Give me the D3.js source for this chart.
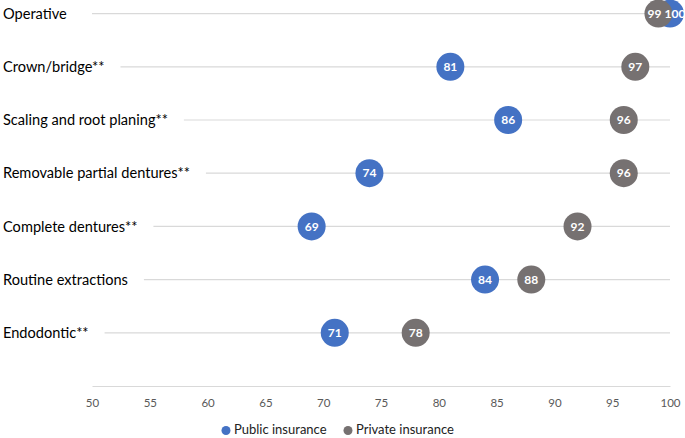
<!DOCTYPE html>
<html><head><meta charset="utf-8">
<script src="https://cdn.jsdelivr.net/npm/d3@7"></script>
<style>body{margin:0;background:#fff}svg{display:block}</style>
</head><body><svg id="c" width="685" height="438"></svg>
<script>
const categories = ["Operative","Crown/bridge**","Scaling and root planing**","Removable partial dentures**","Complete dentures**","Routine extractions","Endodontic**"];
const publicValues = [100,81,86,74,69,84,71];
const privateValues = [99,97,96,96,92,88,78];
const xTicks = [50,55,60,65,70,75,80,85,90,95,100];
const seriesNames = ["Public insurance","Private insurance"];
const colors = ["#4472C4","#767171"];

const svg = d3.select("#c");
const font = "Lato, 'Open Sans', sans-serif";
const x = d3.scaleLinear().domain([50,100]).range([92,670]);
const y = d3.scalePoint().domain(categories.concat(["__axis"])).range([13.6,386]);

// category labels
const rows = categories.map((c,i)=>({c,i}));
const lbls = svg.append("g").selectAll("text").data(rows).join("text")
  .attr("x",3).attr("y",d=>y(d.c)).attr("dy","0.35em")
  .attr("font-family",font).attr("font-size",14.6).attr("fill","#000")
  .text(d=>d.c);
const ends = [];
lbls.each(function(d){ const b=this.getBBox(); ends[d.i] = b.x + b.width; });

// gridlines
svg.insert("g",":first-child").selectAll("line").data(rows).join("line")
  .attr("x1",d=>Math.max(x(50), ends[d.i]+16)).attr("x2",x(100))
  .attr("y1",d=>y(d.c)).attr("y2",d=>y(d.c))
  .attr("stroke","#d9d9d9").attr("stroke-width",1.2);

// axis
const axis = svg.append("g").attr("transform",`translate(0,${y("__axis")})`)
  .call(d3.axisBottom(x).tickValues(xTicks).tickSize(0).tickPadding(13));
axis.select(".domain").attr("stroke","#d9d9d9").attr("stroke-width",1.2);
axis.selectAll("text").attr("font-family",font).attr("font-size",11.5).attr("fill","#595959");

// dots
const r = 14;
const pub = categories.map((c,i)=>({c,v:publicValues[i],o:privateValues[i]}));
const pri = categories.map((c,i)=>({c,v:privateValues[i],o:publicValues[i]}));
svg.append("g").selectAll("circle").data(pub).join("circle")
  .attr("cx",d=>x(d.v)).attr("cy",d=>y(d.c)).attr("r",r).attr("fill",colors[0]);
svg.append("g").selectAll("circle").data(pri).join("circle")
  .attr("cx",d=>x(d.v)).attr("cy",d=>y(d.c)).attr("r",r).attr("fill",colors[1]);
// shift labels apart when the two dots overlap
const shift = d => { const dd = x(d.v)-x(d.o); return Math.abs(dd) < 2*r ? (dd>0?5:-4) : 0; };
[pub,pri].forEach(data=>{
  svg.append("g").selectAll("text").data(data).join("text")
    .attr("x",d=>x(d.v)+shift(d)).attr("y",d=>y(d.c)).attr("dy","0.35em")
    .attr("text-anchor","middle").attr("font-family",font).attr("font-weight","bold")
    .attr("font-size",12).attr("fill","#fff").text(d=>d.v);
});

// legend
const leg = svg.append("g");
const legX = [226,348];
const legY = 429.5;
seriesNames.forEach((n,i)=>{
  leg.append("circle").attr("cx",legX[i]).attr("cy",legY+1).attr("r",4.5).attr("fill",colors[i]);
  leg.append("text").attr("x",legX[i]+8).attr("y",legY).attr("dy","0.35em")
    .attr("font-family",font).attr("font-size",13).attr("fill","#222").text(n);
});
</script></body></html>
